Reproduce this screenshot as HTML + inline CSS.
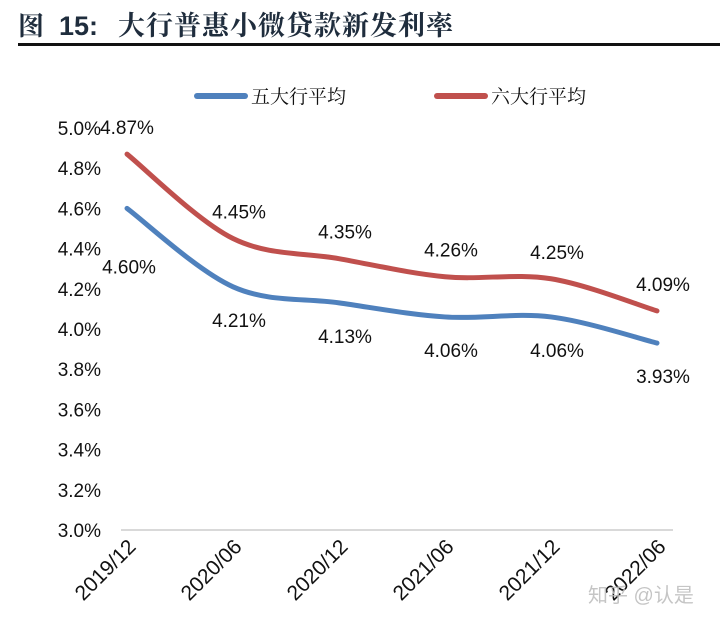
<!DOCTYPE html>
<html><head><meta charset="utf-8">
<style>
html,body{margin:0;padding:0;background:#fff;}
svg{display:block;font-family:"Liberation Sans","Noto Sans CJK SC",sans-serif;}
</style></head>
<body>
<svg id="chart" width="720" height="623" viewBox="0 0 720 623">
  <g font-weight="bold" fill="#1f2d3d">
    <text x="18" y="35" font-size="26" font-family="'Noto Serif CJK SC',serif">图</text>
    <text x="59" y="35" font-size="27" font-family="'Liberation Sans',sans-serif">15:</text>
    <text x="118" y="35" font-size="27" letter-spacing="1" font-family="'Noto Serif CJK SC',serif">大行普惠小微贷款新发利率</text>
  </g>
  <rect x="18" y="43" width="702" height="3" fill="#111"/>
  <g font-family="'Noto Serif CJK SC',serif">
    <g>
      <line x1="197" y1="96" x2="245" y2="96" stroke="#4f81bd" stroke-width="6" stroke-linecap="round"/>
      <text x="251" y="103" font-size="19" fill="#111">五大行平均</text>
    </g>
    <g>
      <line x1="437" y1="96" x2="485" y2="96" stroke="#c0504d" stroke-width="6" stroke-linecap="round"/>
      <text x="491" y="103" font-size="19" fill="#111">六大行平均</text>
    </g>
  </g>
  <line x1="121" y1="530" x2="673" y2="530" stroke="#d9d9d9" stroke-width="2"/>
  <g id="yticks"></g>
  <g id="xticks"></g>
  <g id="series"></g>
  <g id="labels"></g>
  <text x="588" y="602" font-size="20" fill="#bbb" opacity="0.85">知乎 @认是</text>
</svg>
<script>
const categories = ["2019/12","2020/06","2020/12","2021/06","2021/12","2022/06"];
const fiveBanks = [4.60,4.21,4.13,4.06,4.06,3.93];
const sixBanks = [4.87,4.45,4.35,4.26,4.25,4.09];
const yTicks = [3.0,3.2,3.4,3.6,3.8,4.0,4.2,4.4,4.6,4.8,5.0];

const NS = "http://www.w3.org/2000/svg";
const yMin = 3.0, yMax = 5.0, yTop = 128, yBot = 530;
function yScale(v){ return yBot - (v - yMin) / (yMax - yMin) * (yBot - yTop); }
function xScale(i){ return 127 + i * 106; }
function mk(tag, attrs, parent){ const e = document.createElementNS(NS, tag); for (const k in attrs) e.setAttribute(k, attrs[k]); parent.appendChild(e); return e; }

const yg = document.getElementById('yticks');
yTicks.forEach(v => {
  const t = mk('text', {x: 101, y: yScale(v) + 7, 'font-size': 19, 'text-anchor': 'end', fill: '#111'}, yg);
  t.textContent = v.toFixed(1) + '%';
  
  
});
const xg = document.getElementById('xticks');
categories.forEach((c, i) => {
  const x = xScale(i) + 10, y = 548;
  const t = mk('text', {x: x, y: y, 'font-size': 21, 'text-anchor': 'end', fill: '#111', transform: `rotate(-45 ${x} ${y})`}, xg);
  t.textContent = c;
  
  
});

function smoothPath(vals){
  const p = vals.map((v, i) => [xScale(i), yScale(v)]);
  let d = `M${p[0][0]},${p[0][1]}`;
  for (let i = 0; i < p.length - 1; i++){
    const p0 = p[i-1] || p[i], p1 = p[i], p2 = p[i+1], p3 = p[i+2] || p2;
    const t = 1/6;
    const c1 = [p1[0] + (p2[0]-p0[0])*t, p1[1] + (p2[1]-p0[1])*t];
    const c2 = [p2[0] - (p3[0]-p1[0])*t, p2[1] - (p3[1]-p1[1])*t];
    d += ` C${c1[0]},${c1[1]} ${c2[0]},${c2[1]} ${p2[0]},${p2[1]}`;
  }
  return d;
}
const sg = document.getElementById('series');
const blue = mk('path', {d: smoothPath(fiveBanks), fill: 'none', stroke: '#4f81bd', 'stroke-width': 5, 'stroke-linecap': 'round'}, sg);


const red = mk('path', {d: smoothPath(sixBanks), fill: 'none', stroke: '#c0504d', 'stroke-width': 5, 'stroke-linecap': 'round'}, sg);



const lg = document.getElementById('labels');
fiveBanks.forEach((v, i) => {
  const dy = i === 0 ? 65 : 40;
  const t = mk('text', {x: xScale(i) + (i === 0 ? 2 : 6), y: yScale(v) + dy, 'font-size': 19, 'text-anchor': 'middle', fill: '#111'}, lg);
  t.textContent = v.toFixed(2) + '%';
  
  
});
sixBanks.forEach((v, i) => {
  const t = mk('text', {x: xScale(i) + (i === 0 ? 0 : 6), y: yScale(v) - 20, 'font-size': 19, 'text-anchor': 'middle', fill: '#111'}, lg);
  t.textContent = v.toFixed(2) + '%';
  
  
});
</script>
</body></html>
